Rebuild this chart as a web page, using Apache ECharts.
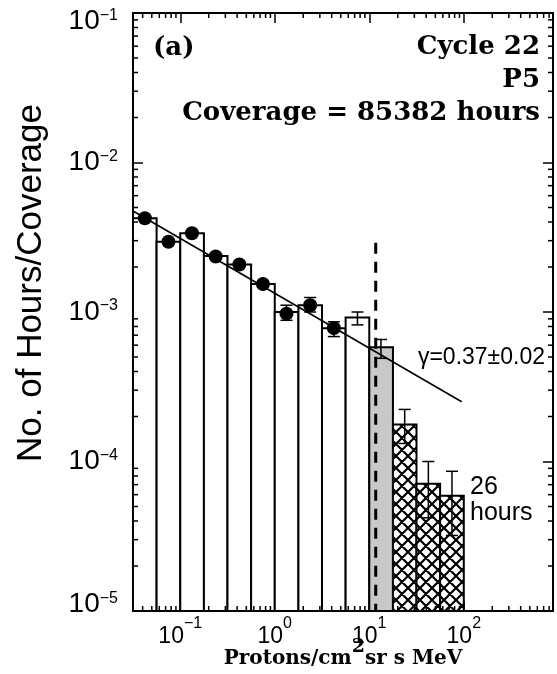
<!DOCTYPE html>
<html><head><meta charset="utf-8">
<script src="https://cdn.jsdelivr.net/npm/echarts@6/dist/echarts.min.js"></script>
<style>html,body{margin:0;padding:0;background:#fff}#c{width:557px;height:674px}</style>
</head><body><div id="c"></div>
<script>
// ---- data ----
const binEdges = [0.0316, 0.0562, 0.1, 0.178, 0.316, 0.562, 1, 1.78, 3.16, 5.62, 10, 17.8, 31.6, 56.2, 100];
const barValues = [4.24e-3, 2.95e-3, 3.36e-3, 2.37e-3, 2.08e-3, 1.54e-3, 1.0e-3, 1.11e-3, 7.8e-4, 9.2e-4, 5.8e-4, 1.77e-4, 7.1e-5, 5.9e-5];
const barKinds = ['open','open','open','open','open','open','open','open','open','open','gray','hatch','hatch','hatch'];
const dotX = [0.0422, 0.075, 0.133, 0.237, 0.422, 0.75, 1.33, 2.37, 4.22];
const dotY = [4.24e-3, 2.95e-3, 3.36e-3, 2.35e-3, 2.08e-3, 1.54e-3, 0.975e-3, 1.11e-3, 7.8e-4];
const errX = [1.33, 2.37, 4.22, 7.5, 13.3, 23.7, 42.2, 75];
const errLow = [8.8e-4, 1.0e-3, 6.85e-4, 8.2e-4, 4.9e-4, 1.32e-4, 4.2e-5, 3.2e-5];
const errHigh = [1.11e-3, 1.25e-3, 8.6e-4, 1.0e-3, 6.55e-4, 2.23e-4, 1.0e-4, 8.6e-5];
const fitX = [0.0316, 95];
const fitY = [4.74e-3, 2.51e-4];
const cutX = [11.7, 11.7];
const cutY = [2.9e-3, 1e-5];
const xRange = [0.031623, 879];
const yRange = [1e-5, 1e-1];
const minorMult = [2, 3, 4, 5, 6, 7, 8, 9];
const xDecades = [0.01, 0.1, 1, 10, 100];
const yDecades = [1e-5, 1e-4, 1e-3, 1e-2];

const xMinor = [];
xDecades.forEach(d => minorMult.forEach(m => { const v = d * m; if (v > xRange[0] && v < xRange[1]) xMinor.push([v, 1e-3]); }));
const yMinor = [];
yDecades.forEach(d => minorMult.forEach(m => { yMinor.push([1, d * m]); }));

function hatchCanvas() {
  const s = 12, c = document.createElement('canvas');
  c.width = s; c.height = s;
  const g = c.getContext('2d');
  g.fillStyle = '#fff'; g.fillRect(0, 0, s, s);
  g.strokeStyle = '#000'; g.lineWidth = 2.2;
  g.beginPath();
  for (const dx of [-s, 0, s]) {
    g.moveTo(dx, 0); g.lineTo(dx + s, s);
    g.moveTo(dx + s, 0); g.lineTo(dx, s);
  }
  g.stroke();
  return c;
}
const hatch = { image: hatchCanvas(), repeat: 'repeat' };

const SERIF = '"DejaVu Serif"';
const SANS = '"Liberation Sans"';

function expOf(v) { const l = Math.log10(v); const r = Math.round(l); return Math.abs(l - r) < 0.01 ? r : null; }
function supNum(n) { return n < 0 ? '\u2212' + (-n) : '' + n; }

const barData = barValues.map((v, i) => [binEdges[i], binEdges[i + 1], v]);

const chart = echarts.init(document.getElementById('c'), null, { renderer: 'canvas' });
const axisLineStyle = { color: '#000', width: 2 };
const yb = { fontFamily: SANS, fontSize: 28, color: '#000', verticalAlign: 'bottom' };
const ys = { fontFamily: SANS, fontSize: 16, color: '#000', verticalAlign: 'top' };
const option = {
  animation: false,
  backgroundColor: '#fff',
  grid: { left: 133, right: 4, top: 13, bottom: 63, containLabel: false, outerBoundsMode: 'none' },
  xAxis: [{
    type: 'log', logBase: 10, min: xRange[0], max: xRange[1], position: 'bottom',
    axisLine: { lineStyle: axisLineStyle },
    axisTick: { inside: true, length: 10, lineStyle: { color: '#000', width: 1.5 } },
    splitLine: { show: false },
    axisLabel: {
      margin: 5, showMinLabel: false, showMaxLabel: false,
      formatter: v => { const e = expOf(v); return e === null ? '' : '{b|10}{s|' + supNum(e) + '}'; },
      rich: {
        b: { fontFamily: SANS, fontSize: 23, color: '#000', verticalAlign: 'bottom', padding: [9, 0, 0, 0] },
        s: { fontFamily: SANS, fontSize: 16, color: '#000', verticalAlign: 'top' }
      }
    },
    name: '{t|Protons/cm}{u|2}{t|sr s MeV}', nameLocation: 'middle', nameGap: 27, nameMoveOverlap: false,
    nameTextStyle: {
      rich: {
        t: { fontFamily: SERIF, fontWeight: 'bold', fontSize: 20, color: '#000', verticalAlign: 'bottom', padding: [11, 0, 0, 0] },
        u: { fontFamily: SERIF, fontWeight: 'bold', fontSize: 19, color: '#000', verticalAlign: 'top' }
      }
    }
  }, {
    type: 'log', logBase: 10, min: xRange[0], max: xRange[1], position: 'top',
    axisLine: { lineStyle: axisLineStyle },
    axisTick: { inside: true, length: 10, lineStyle: { color: '#000', width: 1.5 } },
    axisLabel: { show: false }, splitLine: { show: false }
  }],
  yAxis: [{
    type: 'log', logBase: 10, min: yRange[0], max: yRange[1], position: 'left',
    axisLine: { lineStyle: axisLineStyle },
    axisTick: { inside: true, length: 10, lineStyle: { color: '#000', width: 1.5 } },
    splitLine: { show: false },
    axisLabel: {
      margin: 15,
      formatter: v => {
        const e = expOf(v);
        if (e === null) return '';
        const k = e === -1 ? 'T' : (e === -5 ? 'B' : '');
        return '{b' + k + '|10}{s' + k + '|' + supNum(e) + '}';
      },
      rich: {
        b: yb, s: ys,
        bT: Object.assign({}, yb, { padding: [17, 0, 0, 0] }), sT: Object.assign({}, ys, { padding: [17, 0, 0, 0] }),
        bB: Object.assign({}, yb, { padding: [0, 0, 13, 0] }), sB: Object.assign({}, ys, { padding: [0, 0, 13, 0] })
      }
    }
  }, {
    type: 'log', logBase: 10, min: yRange[0], max: yRange[1], position: 'right',
    axisLine: { lineStyle: axisLineStyle },
    axisTick: { inside: true, length: 10, lineStyle: { color: '#000', width: 1.5 } },
    axisLabel: { show: false }, splitLine: { show: false }
  }],
  graphic: [
    { type: 'text', x: 31, y: 283, rotation: Math.PI / 2, style: { text: 'No. of Hours/Coverage', font: '35px ' + SANS, fill: '#000', align: 'center', verticalAlign: 'middle' } },
    { type: 'text', x: 153, y: 48, style: { text: '(a)', font: 'bold 26px ' + SERIF, fill: '#000', align: 'left', verticalAlign: 'middle' } },
    { type: 'text', x: 540, y: 47, style: { text: 'Cycle 22', font: 'bold 26px ' + SERIF, fill: '#000', align: 'right', verticalAlign: 'middle' } },
    { type: 'text', x: 540, y: 80, style: { text: 'P5', font: 'bold 26px ' + SERIF, fill: '#000', align: 'right', verticalAlign: 'middle' } },
    { type: 'text', x: 540, y: 113, style: { text: 'Coverage = 85382 hours', font: 'bold 26px ' + SERIF, fill: '#000', align: 'right', verticalAlign: 'middle' } },
    { type: 'text', x: 545, y: 358, style: { text: '\u03b3=0.37\u00b10.02', font: '23px ' + SANS, fill: '#000', align: 'right', verticalAlign: 'middle' } },
    { type: 'text', x: 470, y: 487, style: { text: '26', font: '25px ' + SANS, fill: '#000', align: 'left', verticalAlign: 'middle' } },
    { type: 'text', x: 470, y: 513, style: { text: 'hours', font: '25px ' + SANS, fill: '#000', align: 'left', verticalAlign: 'middle' } }
  ],
  series: [
    {
      type: 'custom', name: 'bars', z: 2, data: barData, encode: { x: [0, 1], y: 2 },
      renderItem: (params, api) => {
        const i = params.dataIndex;
        const p0 = api.coord([api.value(0), api.value(2)]);
        const p1 = api.coord([api.value(1), yRange[0]]);
        const k = barKinds[i];
        return {
          type: 'rect',
          shape: { x: p0[0], y: p0[1], width: p1[0] - p0[0], height: p1[1] - p0[1] },
          style: { fill: k === 'gray' ? '#c8c8c8' : (k === 'hatch' ? hatch : '#fff'), stroke: '#000', lineWidth: 2 }
        };
      }
    },
    {
      type: 'line', name: 'fit', z: 3, data: fitX.map((x, i) => [x, fitY[i]]), symbol: 'none',
      lineStyle: { color: '#000', width: 1.6 }
    },
    {
      type: 'scatter', name: 'dots', z: 4, data: dotX.map((x, i) => [x, dotY[i]]),
      symbol: 'circle', symbolSize: 14, itemStyle: { color: '#000', opacity: 1 }
    },
    {
      type: 'custom', name: 'err', z: 5, data: errX.map((x, i) => [x, errLow[i], errHigh[i]]), encode: { x: 0, y: [1, 2] },
      renderItem: (params, api) => {
        const lo = api.coord([api.value(0), api.value(1)]);
        const hi = api.coord([api.value(0), api.value(2)]);
        const w = 6, st = { stroke: '#000', lineWidth: 1.5 };
        return {
          type: 'group', children: [
            { type: 'line', shape: { x1: lo[0], y1: lo[1], x2: hi[0], y2: hi[1] }, style: st },
            { type: 'line', shape: { x1: lo[0] - w, y1: lo[1], x2: lo[0] + w, y2: lo[1] }, style: st },
            { type: 'line', shape: { x1: hi[0] - w, y1: hi[1], x2: hi[0] + w, y2: hi[1] }, style: st }
          ]
        };
      }
    },
    {
      type: 'line', name: 'cut', z: 6, data: cutX.map((x, i) => [x, cutY[i]]), symbol: 'none',
      lineStyle: { color: '#000', width: 3, type: [11, 8] }
    },
    {
      type: 'custom', name: 'xminor', z: 7, data: xMinor, encode: { x: 0, y: 1 }, silent: true,
      renderItem: (params, api) => {
        const cs = params.coordSys;
        const px = api.coord([api.value(0), 1e-3])[0];
        const st = { stroke: '#000', lineWidth: 1.5 };
        return { type: 'group', children: [
          { type: 'line', shape: { x1: px, y1: cs.y + cs.height, x2: px, y2: cs.y + cs.height - 5 }, style: st },
          { type: 'line', shape: { x1: px, y1: cs.y, x2: px, y2: cs.y + 5 }, style: st }
        ] };
      }
    },
    {
      type: 'custom', name: 'yminor', z: 7, data: yMinor, encode: { x: 0, y: 1 }, silent: true,
      renderItem: (params, api) => {
        const cs = params.coordSys;
        const py = api.coord([1, api.value(1)])[1];
        const st = { stroke: '#000', lineWidth: 1.5 };
        return { type: 'group', children: [
          { type: 'line', shape: { x1: cs.x, y1: py, x2: cs.x + 5, y2: py }, style: st },
          { type: 'line', shape: { x1: cs.x + cs.width, y1: py, x2: cs.x + cs.width - 5, y2: py }, style: st }
        ] };
      }
    }
  ]
};
chart.setOption(option);
</script>
</body></html>
